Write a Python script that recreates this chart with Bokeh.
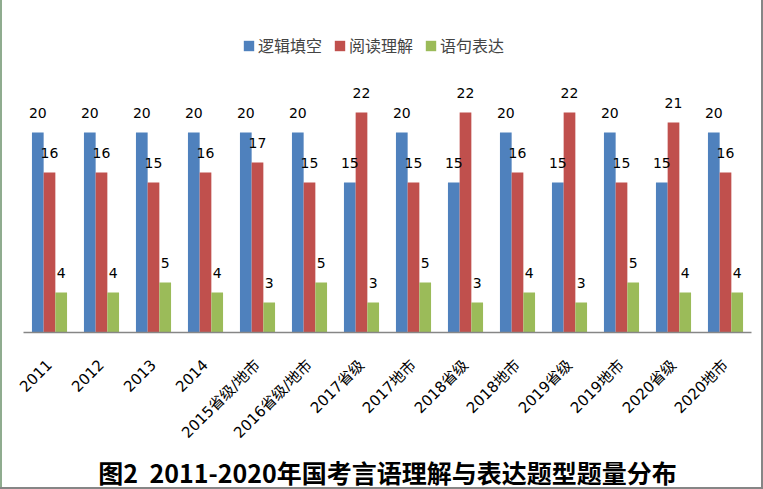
import math
from bokeh.plotting import figure
from bokeh.models import ColumnDataSource, FactorRange, LabelSet, Legend, LegendItem, Range1d, Title
from bokeh.transform import dodge
from bokeh.core.properties import value
from bokeh.embed import file_html
from bokeh.resources import INLINE

categories = ["2011", "2012", "2013", "2014", "2015省级/地市", "2016省级/地市", "2017省级",
              "2017地市", "2018省级", "2018地市", "2019省级", "2019地市", "2020省级", "2020地市"]
series_names = ["逻辑填空", "阅读理解", "语句表达"]
logic = [20, 20, 20, 20, 20, 20, 15, 20, 15, 20, 15, 20, 15, 20]
reading = [16, 16, 15, 16, 17, 15, 22, 15, 22, 16, 22, 15, 21, 16]
sentence = [4, 4, 5, 4, 3, 5, 3, 5, 3, 4, 3, 5, 4, 4]
colors = ["#4F81BD", "#C0504D", "#9BBB59"]
title_text = "图2\u00a0 2011-2020年国考言语理解与表达题型题量分布"

p = figure(x_range=FactorRange(*categories), y_range=Range1d(0, 32.2),
           width=763, height=489, output_backend="svg", toolbar_location=None,
           y_axis_location=None,
           min_border_left=23, min_border_right=12, min_border_top=10, min_border_bottom=157)
p.border_fill_color = None
p.background_fill_color = None
p.outline_line_color = None
p.grid.visible = False
p.styles = {"box-shadow": "inset -2px -2px 0 #868686, inset 2px 0 0 #8FAC8F"}

xa = p.xaxis[0]
xa.axis_line_color = "#868686"
xa.axis_line_width = 1.5
xa.major_tick_line_color = None
xa.minor_tick_line_color = None
xa.major_label_orientation = math.pi / 4
xa.major_label_text_font = "DejaVu Sans, Noto Sans CJK SC"
xa.major_label_text_font_size = "15px"
xa.major_label_text_color = "#000000"
xa.major_label_standoff = 24

offsets = [-0.225, 0.0, 0.225]
items = []
for name, vals, col, off in zip(series_names, [logic, reading, sentence], colors, offsets):
    src = ColumnDataSource(dict(x=categories, y=vals, lbl=[str(v) for v in vals]))
    r = p.vbar(x=dodge("x", off, range=p.x_range), top="y", width=0.225,
               fill_color=col, line_color=None, source=src)
    items.append(LegendItem(label=name, renderers=[r]))
    p.add_layout(LabelSet(x=dodge("x", off, range=p.x_range), y="y", text="lbl",
                          y_offset=20, text_align="center", text_baseline="middle",
                          text_font=value("DejaVu Sans"), text_font_size="14px",
                          text_color="#000000", source=src))

legend = Legend(items=items, orientation="horizontal", location=(219, 275),
                glyph_width=13, glyph_height=13, label_standoff=3, spacing=11,
                label_text_font="Noto Sans CJK SC", label_text_font_size="16px",
                label_height=20, padding=0, margin=0,
                border_line_color=None, background_fill_alpha=0)
p.add_layout(legend, "center")

p.add_layout(Title(text=title_text, align="center", offset=12, standoff=0,
                   text_font="Noto Sans CJK SC", text_font_style="bold",
                   text_font_size="25px", text_color="#000000"), "below")

open("out.html", "w").write(file_html(p, INLINE))
